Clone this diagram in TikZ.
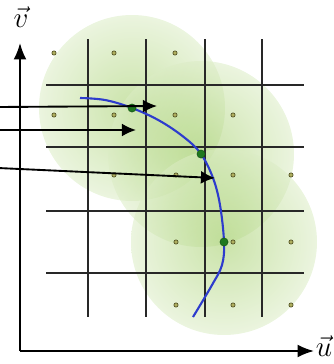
\documentclass[tikz,border=0pt]{standalone}
\usetikzlibrary{arrows.meta}

\definecolor{leaf}{RGB}{135,192,60}
\definecolor{curveblue}{RGB}{45,60,205}
\definecolor{gridgray}{RGB}{40,40,40}
\definecolor{dotolive}{RGB}{85,85,40}
\definecolor{dotfill}{RGB}{175,175,95}
\definecolor{knot}{RGB}{30,120,30}

\begin{document}
\begin{tikzpicture}[x=0.03cm,y=-0.03cm,
  gridline/.style={gridgray, line width=1.3pt},
  axis/.style={line width=1.7pt, -{Latex[length=14pt,width=11pt]}},
  pointer/.style={line width=1.6pt, -{Latex[length=12pt,width=11pt]}},
  sample/.style={circle, draw=dotolive, fill=dotfill, line width=0.6pt, inner sep=0pt, minimum size=3.6pt},
  knotdot/.style={circle, fill=knot, draw=knot!70!black, inner sep=0pt, minimum size=7pt},
  blob/.style={inner color=leaf!80, outer color=leaf!30, fill opacity=0.55}]

\useasboundingbox (0,0) rectangle (333,364);

% Points on the curve
\coordinate (p1) at (132,108);
\coordinate (p2) at (201,154);
\coordinate (p3) at (224,242);

% Neighbourhoods
\shade[blob] (p1) circle (93);
\shade[blob] (p2) circle (93);
\shade[blob] (p3) circle (93);

% Grid
\foreach \x in {88,146,205,262}
  \draw[gridline] (\x,39) -- (\x,317);
\foreach \y in {85,147,211,273}
  \draw[gridline] (46,\y) -- (304,\y);

% Samples
\foreach \x/\y in {54/53,114/53,175/53,
                   54/115,114/115,175/115,233/115,
                   114/175,176/175,233/175,291/175,
                   176/242,233/242,291/242,
                   176/305,233/305,291/305}
  \node[sample] (s-\x-\y) at (\x,\y) {};

% Curve
\draw[curveblue, line width=1.8pt] plot[smooth, tension=0.6] coordinates
  {(80,98) (105,100) (132,108) (160,121) (185,138) (201,154) (213,178)
   (220,205) (224,242) (222,265) (212,285) (193,317)};

\node[knotdot] (k1) at (p1) {};
\node[knotdot] (k2) at (p2) {};
\node[knotdot] (k3) at (p3) {};

% Pointers
\coordinate (a1) at (-2,107);
\coordinate (a2) at (-2,130);
\coordinate (a3) at (-2,168);
\coordinate (b1) at (157,106);
\coordinate (b2) at (136,130);
\coordinate (b3) at (215,178);
\draw[pointer] (a1) -- (b1);
\draw[pointer] (a2) -- (b2);
\draw[pointer] (a3) -- (b3);

% Axes
\coordinate (o) at (20,351);
\coordinate (vtip) at (20,43);
\coordinate (utip) at (314,351);
\draw[axis] (o) -- (vtip);
\draw[axis] (o) -- (utip);
\node (v) at (21,17) {\fontsize{30}{32}\selectfont$\vec{v}$};
\node (u) at (324,346) {\fontsize{30}{32}\selectfont$\vec{u}$};

\end{tikzpicture}
\end{document}
